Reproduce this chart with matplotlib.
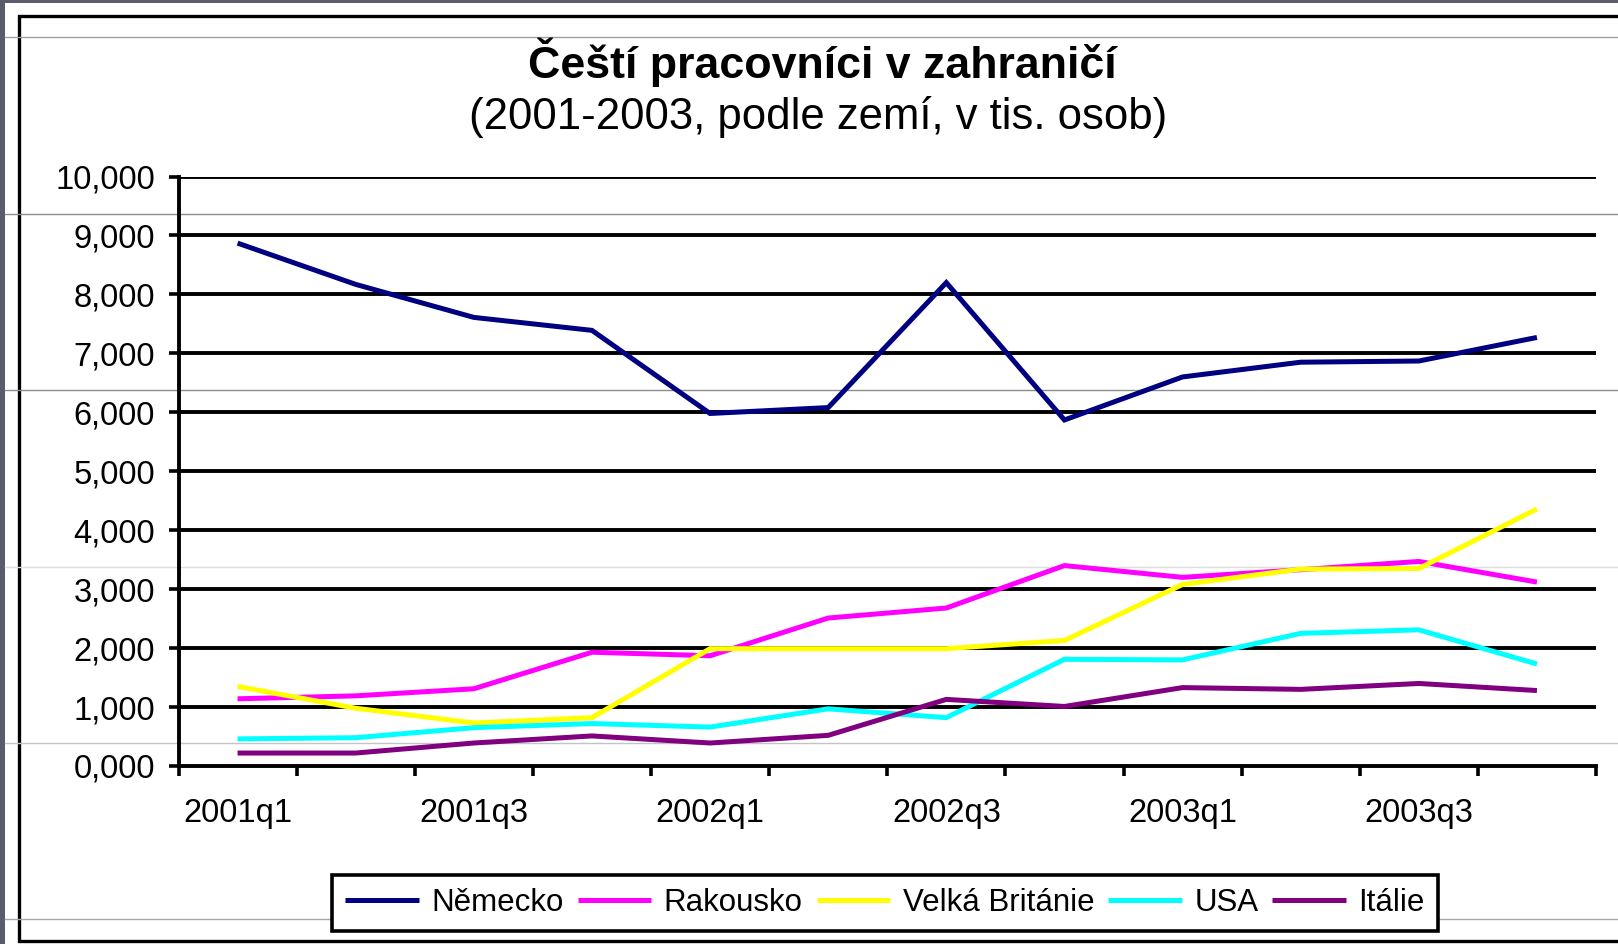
import matplotlib
matplotlib.use("Agg")
import matplotlib.pyplot as plt
from matplotlib.patches import Rectangle
from matplotlib.lines import Line2D
import numpy as np

plt.rcParams['font.family'] = ['Liberation Sans', 'DejaVu Sans']

# ---------------- data (thousands of persons) ----------------
quarters = ["2001q1", "2001q2", "2001q3", "2001q4",
            "2002q1", "2002q2", "2002q3", "2002q4",
            "2003q1", "2003q2", "2003q3", "2003q4"]
nemecko = [8.87, 8.17, 7.61, 7.39, 5.98, 6.08, 8.20, 5.87, 6.60, 6.85, 6.87, 7.27]
rakousko = [1.14, 1.19, 1.31, 1.93, 1.87, 2.51, 2.68, 3.40, 3.20, 3.33, 3.47, 3.12]
velka_britanie = [1.35, 0.98, 0.73, 0.82, 1.99, 1.99, 1.99, 2.13, 3.08, 3.34, 3.35, 4.36]
usa = [0.46, 0.48, 0.65, 0.72, 0.66, 0.97, 0.82, 1.81, 1.80, 2.25, 2.31, 1.73]
italie = [0.22, 0.22, 0.39, 0.51, 0.39, 0.52, 1.13, 1.01, 1.33, 1.30, 1.40, 1.28]

series_names = ["Německo", "Rakousko", "Velká Británie", "USA", "Itálie"]
series_values = [nemecko, rakousko, velka_britanie, usa, italie]
series_colors = ["#000080", "#FF00FF", "#FFFF00", "#00FFFF", "#800080"]

y_ticks = [0, 1, 2, 3, 4, 5, 6, 7, 8, 9, 10]

title = "Čeští pracovníci v zahraničí"
subtitle = "(2001-2003, podle zemí, v tis. osob)"

# ---------------- figure ----------------
W, H = 1618, 944
fig = plt.figure(figsize=(W / 100, H / 100), dpi=100, facecolor="#5a5c6c")

def px(x, y):
    return x / W, 1 - y / H

# white slide area
fig.add_artist(Rectangle(px(5, 944), (W - 5) / W, (944 - 3) / H,
                         transform=fig.transFigure, facecolor="white",
                         edgecolor="none", zorder=-3))
# chart border (black)
fig.add_artist(Rectangle(px(19, 941), (W + 20 - 19) / W, (941 - 16) / H,
                         transform=fig.transFigure, facecolor="white",
                         edgecolor="black", linewidth=2.4, zorder=-2))

# thin gray artefact lines
for yy, col in [(37, "#a0a0a0"), (214, "#8c8c8c"), (390, "#8c8c8c"),
                (567, "#dedede"), (743, "#c4c4c4"), (919, "#a8a8a8")]:
    fig.add_artist(Line2D([5 / W, 1.0], [1 - yy / H, 1 - yy / H],
                          transform=fig.transFigure, color=col,
                          linewidth=1.0, zorder=-1))

left, right, top, bottom = 178.5, 1596, 176.5, 766
ax = fig.add_axes([left / W, 1 - bottom / H, (right - left) / W, (bottom - top) / H])
ax.set_facecolor("none")

n = len(quarters)
x = np.arange(n)

for name, vals, col in zip(series_names, series_values, series_colors):
    ax.plot(x, vals, color=col, linewidth=3.6, label=name,
            solid_joinstyle="miter", solid_capstyle="butt", zorder=3)

ax.set_xlim(-0.5, n - 0.5)
ax.set_ylim(0, 10)

# gridlines
for v in y_ticks[1:]:
    ax.axhline(v, color="black", linewidth=2.8, zorder=1)

# spines
for s in ["top", "right"]:
    ax.spines[s].set_visible(False)
for s in ["left", "bottom"]:
    ax.spines[s].set_linewidth(2.8)
    ax.spines[s].set_color("black")

ax.set_yticks(y_ticks)
ax.set_yticklabels([f"{v:.3f}".replace(".", ",") for v in y_ticks])
ax.tick_params(axis="y", direction="out", length=7.5, width=2.6,
               labelsize=23.5, pad=9.5, colors="black")

# x: major ticks at category boundaries, labels on minor ticks
ax.set_xticks(np.arange(n + 1) - 0.5)
ax.set_xticklabels([])
ax.set_xticks(x[::2], minor=True)
ax.set_xticklabels(quarters[::2], minor=True)
ax.tick_params(axis="x", which="major", direction="out", length=7.5, width=2.6)
ax.tick_params(axis="x", which="minor", length=0, labelsize=23.5, pad=23)

# titles
fig.text(822 / W, 1 - 62 / H, title, ha="center", va="center",
         fontsize=32.2, fontweight="bold")
fig.text(818 / W, 1 - 117 / H, subtitle, ha="center", va="center",
         fontsize=31.5)

handles, labels = ax.get_legend_handles_labels()
leg = fig.legend(handles, labels, loc="center",
                 bbox_to_anchor=(885 / W, 1 - 903 / H), ncol=5,
                 fontsize=22.5, frameon=True, fancybox=False, framealpha=1,
                 edgecolor="black", handlelength=2.35, handletextpad=0.4,
                 columnspacing=0.45, borderpad=0.42, borderaxespad=0)
leg.get_frame().set_linewidth(2.6)

fig.savefig("out.png", dpi=100, facecolor=fig.get_facecolor())
